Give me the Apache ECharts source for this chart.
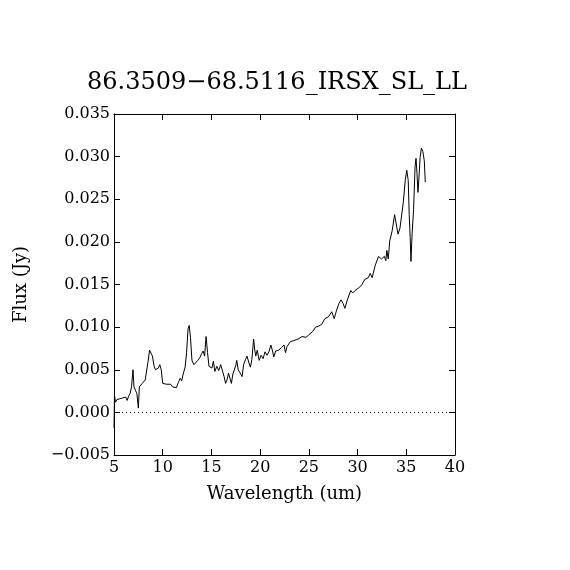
<!DOCTYPE html>
<html>
<head>
<meta charset="utf-8">
<script src="https://cdn.jsdelivr.net/npm/echarts@6/dist/echarts.min.js"></script>
<style>
  html, body { margin: 0; padding: 0; background: #fff; }
  #main { width: 570px; height: 570px; }
</style>
</head>
<body>
<div id="main"></div>
<script>
// spectrum
var wave = [5.0, 5.05, 5.15, 5.3, 5.45, 5.6, 5.75, 5.9, 6.05, 6.2, 6.35, 6.5, 6.65, 6.8, 6.95, 7.05, 7.2, 7.35, 7.5, 7.6,
  7.75, 7.9, 8.05, 8.2, 8.35, 8.5, 8.65, 8.8, 8.95, 9.1, 9.25, 9.4, 9.55, 9.7, 9.85, 10.0, 10.2, 10.4, 10.6, 10.8,
  11.0, 11.2, 11.4, 11.6, 11.8, 11.95, 12.1, 12.3, 12.45, 12.6, 12.72, 12.85, 13.0, 13.2, 13.4, 13.6, 13.8, 14.0, 14.15, 14.3,
  14.45, 14.6, 14.75, 14.9, 15.05, 15.2, 15.35, 15.55, 15.75, 15.95, 16.15, 16.3, 16.45, 16.6, 16.75, 16.9, 17.05, 17.2, 17.35, 17.5,
  17.6, 17.75, 17.95, 18.15, 18.3, 18.5, 18.65, 18.85, 19.0, 19.15, 19.33, 19.45, 19.55, 19.7, 19.9, 20.1, 20.3, 20.5, 20.7, 20.9,
  21.1, 21.25, 21.4, 21.6, 21.9, 22.2, 22.45, 22.6, 22.75, 22.9, 23.1, 23.4, 23.9, 24.3, 24.7, 25.0, 25.4, 25.7, 25.95, 26.3,
  26.65, 27.0, 27.35, 27.6, 27.85, 28.1, 28.3, 28.5, 28.7, 28.95, 29.3, 29.5, 29.75, 30.1, 30.4, 30.75, 31.1, 31.3, 31.5, 31.8,
  32.15, 32.45, 32.75, 32.9, 33.0, 33.15, 33.3, 33.55, 33.8, 34.0, 34.15, 34.35, 34.55, 34.7, 34.9, 35.05, 35.2, 35.3, 35.4, 35.48,
  35.6, 35.75, 35.9, 36.0, 36.1, 36.2, 36.3, 36.42, 36.55, 36.7, 36.85, 36.95];
var flux = [-0.0018, 0.0020, 0.0012, 0.0015, 0.0013, 0.0016, 0.0014, 0.0017, 0.0015, 0.0018, 0.0014, 0.0019, 0.0022, 0.0030, 0.0050, 0.0030, 0.0026, 0.0022, 0.0005, 0.0030,
  0.0028, 0.0034, 0.0033, 0.0038, 0.0040, 0.0060, 0.0073, 0.0072, 0.0066, 0.0055, 0.0050, 0.0048, 0.0052, 0.0056, 0.0050, 0.0034, 0.0032, 0.0033, 0.0031, 0.0033,
  0.0030, 0.0032, 0.0029, 0.0035, 0.0040, 0.0037, 0.0045, 0.0053, 0.0070, 0.0098, 0.0102, 0.0088, 0.0061, 0.0056, 0.0057, 0.0061, 0.0064, 0.0069, 0.0072, 0.0066,
  0.0089, 0.0070, 0.0054, 0.0055, 0.0052, 0.0060, 0.0048, 0.0054, 0.0049, 0.0056, 0.0054, 0.0042, 0.0034, 0.0038, 0.0046, 0.0040, 0.0034, 0.0045, 0.0044, 0.0055,
  0.0061, 0.0050, 0.0052, 0.0042, 0.0056, 0.0062, 0.0066, 0.0058, 0.0053, 0.0062, 0.0086, 0.0073, 0.0066, 0.0073, 0.0061, 0.0067, 0.0063, 0.0071, 0.0067, 0.0071,
  0.0079, 0.0073, 0.0065, 0.0072, 0.0073, 0.0076, 0.0079, 0.0070, 0.0077, 0.0075, 0.0083, 0.0084, 0.0086, 0.0089, 0.0088, 0.0091, 0.0095, 0.0100, 0.0101, 0.0103,
  0.0110, 0.0112, 0.0118, 0.0110, 0.0120, 0.0128, 0.0132, 0.0128, 0.0122, 0.0132, 0.0143, 0.0140, 0.0143, 0.0146, 0.0149, 0.0156, 0.0158, 0.0163, 0.0158, 0.0172,
  0.0183, 0.0180, 0.0183, 0.0178, 0.0190, 0.0180, 0.0201, 0.0213, 0.0232, 0.0230, 0.0209, 0.0216, 0.0217, 0.0247, 0.0273, 0.0284, 0.0272, 0.0232, 0.0205, 0.0177,
  0.0210, 0.0238, 0.0288, 0.0298, 0.0280, 0.0258, 0.0275, 0.0299, 0.0310, 0.0306, 0.0295, 0.0270];

var xTicks = [5, 40, 5];          // min, max, step
var yTicks = [-0.005, 0.035, 0.005];
var titleText = '86.3509\u221268.5116_IRSX_SL_LL';

var pts = wave.map(function (w, i) { return [w, flux[i]]; });
var font = 'DejaVu Serif';

function yFmt(v) {
  return v.toFixed(3).replace('-', '\u2212');
}

var tickIn = { show: true, inside: true, length: 6, lineStyle: { color: '#000', width: 1 } };
var line = { show: true, onZero: false, lineStyle: { color: '#000', width: 1 } };

var chart = echarts.init(document.getElementById('main'));
chart.setOption({
  animation: false,
  backgroundColor: '#fff',
  title: {
    text: titleText,
    left: 272, top: 66,
    textAlign: 'center',
    textStyle: { fontFamily: font, fontSize: 24, fontWeight: 'normal', color: '#000' }
  },
  grid: { left: 114, right: 115, top: 114, bottom: 115 },
  xAxis: [{
    type: 'value', min: xTicks[0], max: xTicks[1], interval: xTicks[2],
    position: 'bottom',
    name: 'Wavelength (um)', nameLocation: 'middle', nameGap: 30,
    nameTextStyle: { fontFamily: font, fontSize: 18, color: '#000' },
    axisLine: line, axisTick: tickIn, splitLine: { show: false },
    axisLabel: { fontFamily: font, fontSize: 16, color: '#000', margin: 5 }
  }, {
    type: 'value', min: xTicks[0], max: xTicks[1], interval: xTicks[2],
    position: 'top',
    axisLine: line, axisTick: tickIn, splitLine: { show: false }, axisLabel: { show: false }
  }],
  yAxis: [{
    type: 'value', min: yTicks[0], max: yTicks[1], interval: yTicks[2],
    position: 'left',
    name: 'Flux (Jy)', nameLocation: 'middle', nameGap: 84, nameRotate: 90,
    nameTextStyle: { fontFamily: font, fontSize: 18, color: '#000' },
    axisLine: line, axisTick: tickIn, splitLine: { show: false },
    axisLabel: { fontFamily: font, fontSize: 16, color: '#000', margin: 4, formatter: yFmt }
  }, {
    type: 'value', min: yTicks[0], max: yTicks[1], interval: yTicks[2],
    position: 'right',
    axisLine: line, axisTick: tickIn, splitLine: { show: false }, axisLabel: { show: false }
  }],
  series: [{
    type: 'line',
    data: pts,
    showSymbol: false,
    lineStyle: { color: '#000', width: 1 },
    markLine: {
      silent: true, symbol: 'none', label: { show: false },
      lineStyle: { color: '#000', width: 1, type: [1, 3] },
      data: [{ yAxis: 0 }]
    }
  }]
});
</script>
</body>
</html>
